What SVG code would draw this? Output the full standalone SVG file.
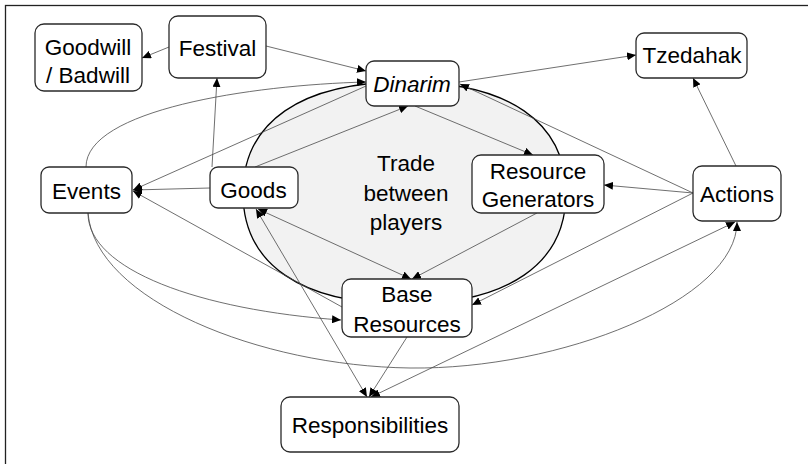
<svg xmlns="http://www.w3.org/2000/svg" width="808" height="464" viewBox="0 0 808 464">
<defs>
<marker id="a" viewBox="0 0 9 8" refX="9" refY="4" markerWidth="9" markerHeight="8" markerUnits="userSpaceOnUse" orient="auto-start-reverse"><path d="M0,0L9,4L0,8z" fill="#000"/></marker>
<style>
.box{fill:#fff;stroke:#2a2a2a;stroke-width:1.3}
.t{font-family:"Liberation Sans",Arial,sans-serif;font-size:22.5px;fill:#000;text-anchor:middle}
.c path{fill:none;stroke:#4a4a4a;stroke-width:0.8}
.e{marker-end:url(#a)}
.b{marker-start:url(#a);marker-end:url(#a)}
</style>
</defs>
<rect width="808" height="464" fill="#fff"/>
<rect x="5.5" y="5.5" width="820" height="480" fill="none" stroke="#222" stroke-width="1.3"/>
<g id="trade">
<path d="M243,193 C243,122 301,82 404.5,82 C508,82 566,122 566,193 C566,264 508,304 404.5,304 C301,304 243,264 243,193 Z" fill="#f2f2f2" stroke="#000" stroke-width="1.3"/>
<text class="t" x="406" y="171">Trade</text>
<text class="t" x="406" y="201">between</text>
<text class="t" x="406" y="230">players</text>
</g>
<g id="connectors" class="c">
<path class="e" d="M169,47 L142,58"/>
<path class="e" d="M266,46 L366,71"/>
<path class="e" d="M86,167 C86,110 250,85 366,82"/>
<path class="e" d="M212,167 L217,78"/>
<path class="e" d="M255,167 L408,106"/>
<path class="e" d="M366,86 L133,190"/>
<path class="e" d="M210,188 L133,190"/>
<path class="e" d="M342,307 L133,191"/>
<path class="e" d="M88,213 C88,270 200,310 341,320"/>
<path class="e" d="M88,213 C95,300 260,366 410,368 C560,370 737,300 737,222"/>
<path class="b" d="M258,209 L411,279"/>
<path class="b" d="M256,209 L367,397"/>
<path class="e" d="M537,213 L412,279"/>
<path class="e" d="M407,337 L369,397"/>
<path class="b" d="M371,397 L735,222"/>
<path class="e" d="M415,106 L533,155"/>
<path class="e" d="M693,193 L460,84"/>
<path class="e" d="M693,193 L604,185"/>
<path class="e" d="M693,193 L472,305"/>
<path class="e" d="M736,166 L693,78"/>
<path class="e" d="M459,82 L636,55"/>
</g>
<g id="goodwill"><rect class="box" x="35" y="24" width="107" height="67" rx="9"/><text class="t" x="88" y="55">Goodwill</text><text class="t" x="88" y="83">/ Badwill</text></g>
<g id="festival"><rect class="box" x="169" y="16" width="97" height="62" rx="9"/><text class="t" x="217.5" y="56">Festival</text></g>
<g id="dinarim"><rect class="box" x="366" y="61" width="93" height="45" rx="8"/><text class="t" x="412" y="92" font-style="italic">Dinarim</text></g>
<g id="tzedahak"><rect class="box" x="636" y="33" width="111" height="45" rx="8"/><text class="t" x="692" y="63">Tzedahak</text></g>
<g id="events"><rect class="box" x="41" y="167" width="91" height="46" rx="8"/><text class="t" x="86.5" y="199">Events</text></g>
<g id="goods"><rect class="box" x="210" y="167" width="88" height="41" rx="8"/><text class="t" x="253.5" y="198">Goods</text></g>
<g id="generators"><rect class="box" x="472" y="155" width="132" height="58" rx="9"/><text class="t" x="538" y="179">Resource</text><text class="t" x="538" y="206.5">Generators</text></g>
<g id="actions"><rect class="box" x="693" y="166" width="88" height="55" rx="9"/><text class="t" x="737" y="201.5">Actions</text></g>
<g id="base"><rect class="box" x="342" y="279" width="130" height="58" rx="9"/><text class="t" x="407" y="301.5">Base</text><text class="t" x="407" y="332">Resources</text></g>
<g id="responsibilities"><rect class="box" x="281" y="397" width="178" height="55" rx="9"/><text class="t" x="370" y="433">Responsibilities</text></g>
</svg>
